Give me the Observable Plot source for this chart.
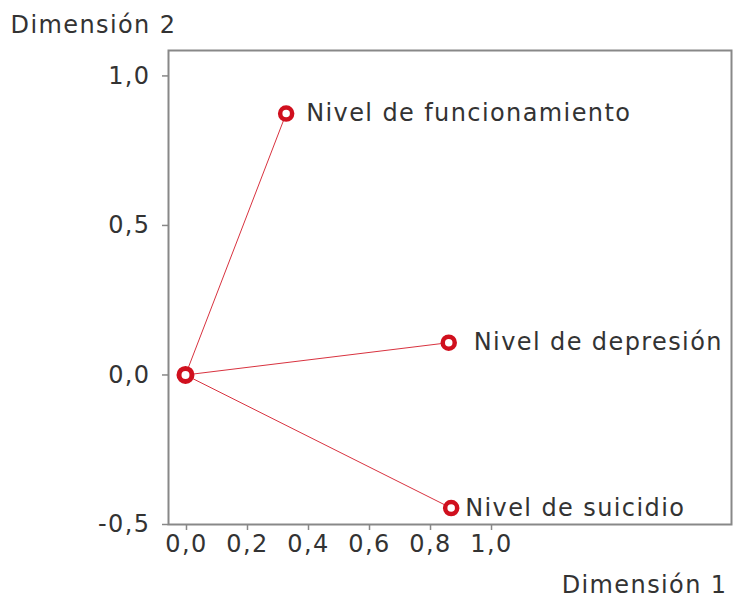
<!DOCTYPE html>
<html>
<head>
<meta charset="utf-8">
<script src="https://cdn.jsdelivr.net/npm/d3@7"></script>
<script src="https://cdn.jsdelivr.net/npm/@observablehq/plot@0.6"></script>
<style>
  html, body { margin: 0; padding: 0; background: #fff; }
  #chart svg { display: block; }
</style>
</head>
<body>
<div id="chart"></div>
<script>
// Data
const variables = ["Nivel de funcionamiento", "Nivel de depresión", "Nivel de suicidio"];
const dim1 = [0.330, 0.863, 0.871];
const dim2 = [0.874, 0.108, -0.445];
const labelOffsets = [20, 25, 14];
const xTicks = [0, 0.2, 0.4, 0.6, 0.8, 1.0];
const yTicks = [-0.5, 0, 0.5, 1.0];
const xTitle = "Dimensión 1";
const yTitle = "Dimensión 2";

const points = variables.map((name, i) => ({name, x: dim1[i], y: dim2[i], off: labelOffsets[i]}));
const origin = [{x: 0, y: 0}];
const fmt = d => d.toFixed(1).replace(".", ",");

const red = "#d0101e";
const textColor = "#333";
const axisColor = "#888";
const font = "DejaVu Sans, Verdana, sans-serif";
const fs = 24;

const chart = Plot.plot({
  width: 733,
  height: 600,
  marginLeft: 168,
  marginRight: 2,
  marginTop: 50,
  marginBottom: 76,
  style: {fontFamily: font, fontSize: fs + "px", color: textColor, background: "#fff", letterSpacing: "1.4px"},
  x: {domain: [-0.0557, 1.79]},
  y: {domain: [-0.5, 1.085]},
  marks: [
    Plot.frame({stroke: axisColor, strokeWidth: 2}),
    Plot.axisX({ticks: xTicks, tickFormat: fmt, tickSize: 6, tickPadding: 4, stroke: axisColor, strokeWidth: 1.5, label: null, fill: textColor, fontSize: fs, dx: 1}),
    Plot.axisY({ticks: yTicks, tickFormat: fmt, tickSize: 6, tickPadding: 12, stroke: axisColor, strokeWidth: 1.5, label: null, fill: textColor, fontSize: fs}),
    Plot.link(points, {x1: () => 0, y1: () => 0, x2: "x", y2: "y", stroke: "#d8323f", strokeWidth: 1}),
    Plot.dot(origin, {x: "x", y: "y", r: 6.5, stroke: red, strokeWidth: 5, fill: "#fff"}),
    Plot.dot(points, {x: "x", y: "y", r: 6, stroke: red, strokeWidth: 4.5, fill: "#fff"}),
    ...points.map(p => Plot.text([p], {x: "x", y: "y", text: "name", dx: p.off, textAnchor: "start", fill: textColor, fontSize: fs})),
    Plot.text([yTitle], {frameAnchor: "top-left", dx: -158, dy: -25, textAnchor: "start", lineAnchor: "middle", fill: textColor, fontSize: fs}),
    Plot.text([xTitle], {frameAnchor: "bottom-right", dx: -4, dy: 61, textAnchor: "end", lineAnchor: "middle", fill: textColor, fontSize: fs})
  ]
});
document.getElementById("chart").appendChild(chart);
</script>
</body>
</html>
